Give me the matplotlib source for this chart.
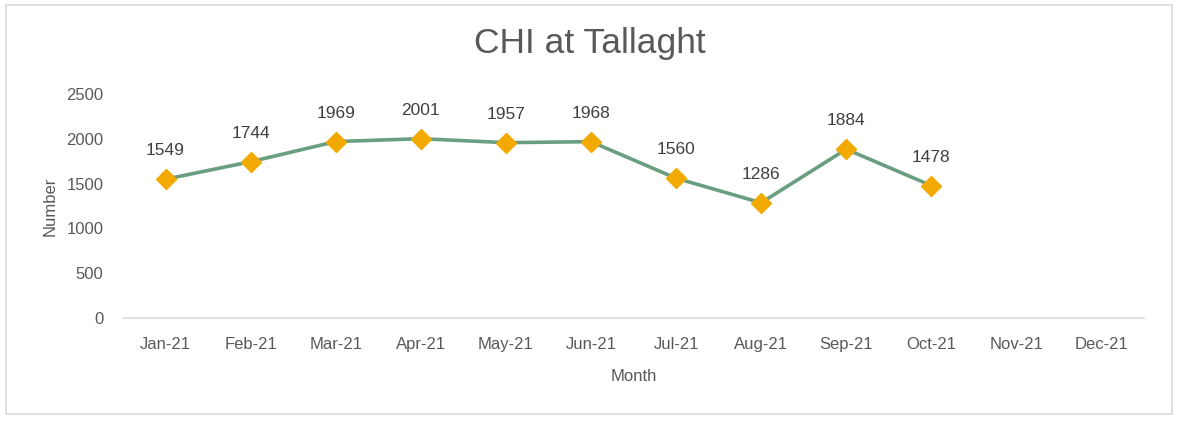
import matplotlib.pyplot as plt
from matplotlib.patches import Rectangle

months = ['Jan-21', 'Feb-21', 'Mar-21', 'Apr-21', 'May-21', 'Jun-21',
          'Jul-21', 'Aug-21', 'Sep-21', 'Oct-21', 'Nov-21', 'Dec-21']
values = [1549, 1744, 1969, 2001, 1957, 1968, 1560, 1286, 1884, 1478]

plt.rcParams['font.family'] = ['Liberation Sans', 'DejaVu Sans']
grey = '#595959'

fig = plt.figure(figsize=(11.79, 4.22), dpi=100)
fig.patches.append(Rectangle((6 / 1179, 8 / 422), 1166 / 1179, 409 / 422,
                             transform=fig.transFigure, fill=False,
                             edgecolor='#d9d9d9', linewidth=1.2))

ax = fig.add_axes([123 / 1179, 1 - 318 / 422, 1021 / 1179, 224 / 422])
x = list(range(len(values)))
ax.plot(x, values, color='#6a9e80', linewidth=2.6, zorder=2)
ax.plot(x, values, linestyle='none', marker='D', markersize=10,
        color='#f2a900', zorder=3)
for xi, v in zip(x, values):
    ax.annotate(str(v), (xi, v), xytext=(0, 15), textcoords='offset points',
                ha='center', va='bottom', fontsize=12.5, color='#404040')

ax.set_xlim(-0.5, len(months) - 0.5)
ax.set_ylim(0, 2500)
ax.set_xticks(range(len(months)))
ax.set_xticklabels(months)
ax.set_yticks(range(0, 2501, 500))
ax.tick_params(axis='both', length=0, labelsize=12, colors=grey)
ax.tick_params(axis='x', pad=14)
ax.tick_params(axis='y', pad=14)
for side in ['top', 'right', 'left']:
    ax.spines[side].set_visible(False)
ax.spines['bottom'].set_color('#d9d9d9')
ax.spines['bottom'].set_linewidth(1.2)

ax.set_xlabel('Month', fontsize=12, color=grey, labelpad=12)
ax.set_ylabel('Number', fontsize=12, color=grey, labelpad=6)
fig.text(0.5, 1 - 43 / 422, 'CHI at Tallaght', ha='center', va='center',
         fontsize=25.5, color=grey)

fig.savefig('out.png', dpi=100)
